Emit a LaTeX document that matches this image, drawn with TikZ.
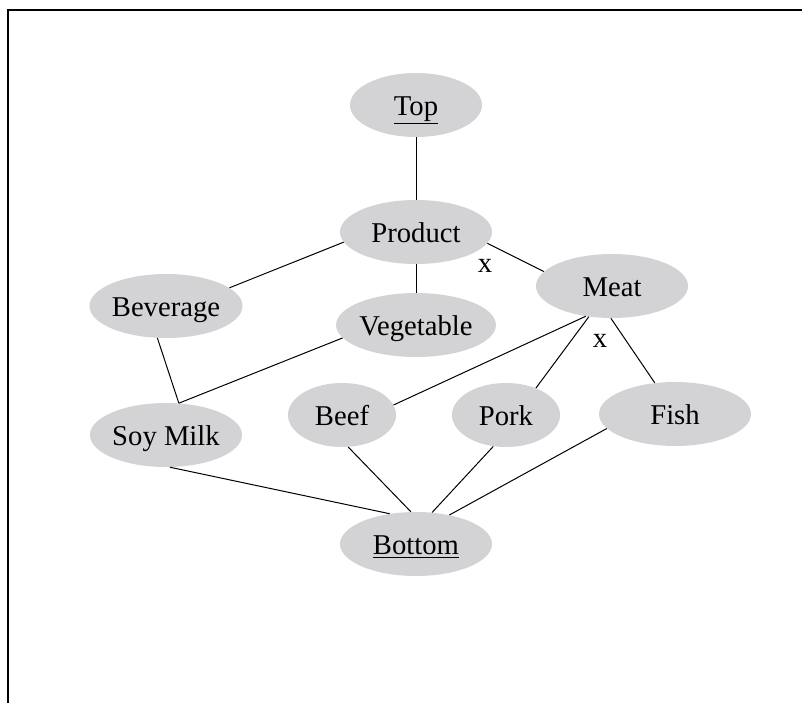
\documentclass[tikz,border=0pt]{standalone}
\usepackage{fontspec}
\setmainfont{Liberation Serif}
\usetikzlibrary{shapes.geometric}

\definecolor{lattgray}{RGB}{211,211,213}

\begin{document}
\begin{tikzpicture}[x=0.75pt, y=-0.75pt,
		every node/.style={font=\fontsize{21.5}{25}\selectfont},
		elem/.style={ellipse, fill=lattgray, inner sep=0pt, minimum height=48pt,
			minimum width=114pt, text height=16pt, text depth=0pt},
		narrow/.style={minimum width=81pt},
		link/.style={line width=0.75pt}]
			\useasboundingbox (0,0) rectangle (802,703);
			\draw[line width=1pt] (8,703) -- (8,10) -- (802,10);
			% lattice elements
			\node[elem, minimum width=99pt] (top) at (416,105) {\underline{Top}};
			\node[elem] (product) at (416,232) {Product};
			\node[elem] (beverage) at (166,306) {Beverage};
			\node[elem] (vegetable) at (416,325) {Vegetable};
			\node[elem] (meat) at (612,286) {Meat};
			\node[elem] (soymilk) at (166,435) {Soy Milk};
			\node[elem, narrow] (beef) at (342,415) {Beef};
			\node[elem, narrow] (pork) at (506,415) {Pork};
			\node[elem] (fish) at (675,414) {Fish};
			\node[elem] (bottom) at (416,544) {\underline{Bottom}};
			% order relations
			\draw[link] (top.south) -- (product.north);
			\draw[link] (product.south) -- (vegetable.north);
			\foreach \a/\b in {product.188/beverage.16, product.351/meat.168,
				beverage.255/soymilk.68, vegetable.190/soymilk.68,
				meat.229/beef.11, meat.233/pork.42, meat.268/fish.123,
				soymilk.277/bottom.131, beef.281/bottom.99,
				pork.248/bottom.63, fish.192/bottom.41} {
				\draw[link] (\a) -- (\b);
			}
			% crossed-out relations
			\node (xprod) at (485,266) {x};
			\node (xmeat) at (600,341) {x};
		\end{tikzpicture}
\end{document}
